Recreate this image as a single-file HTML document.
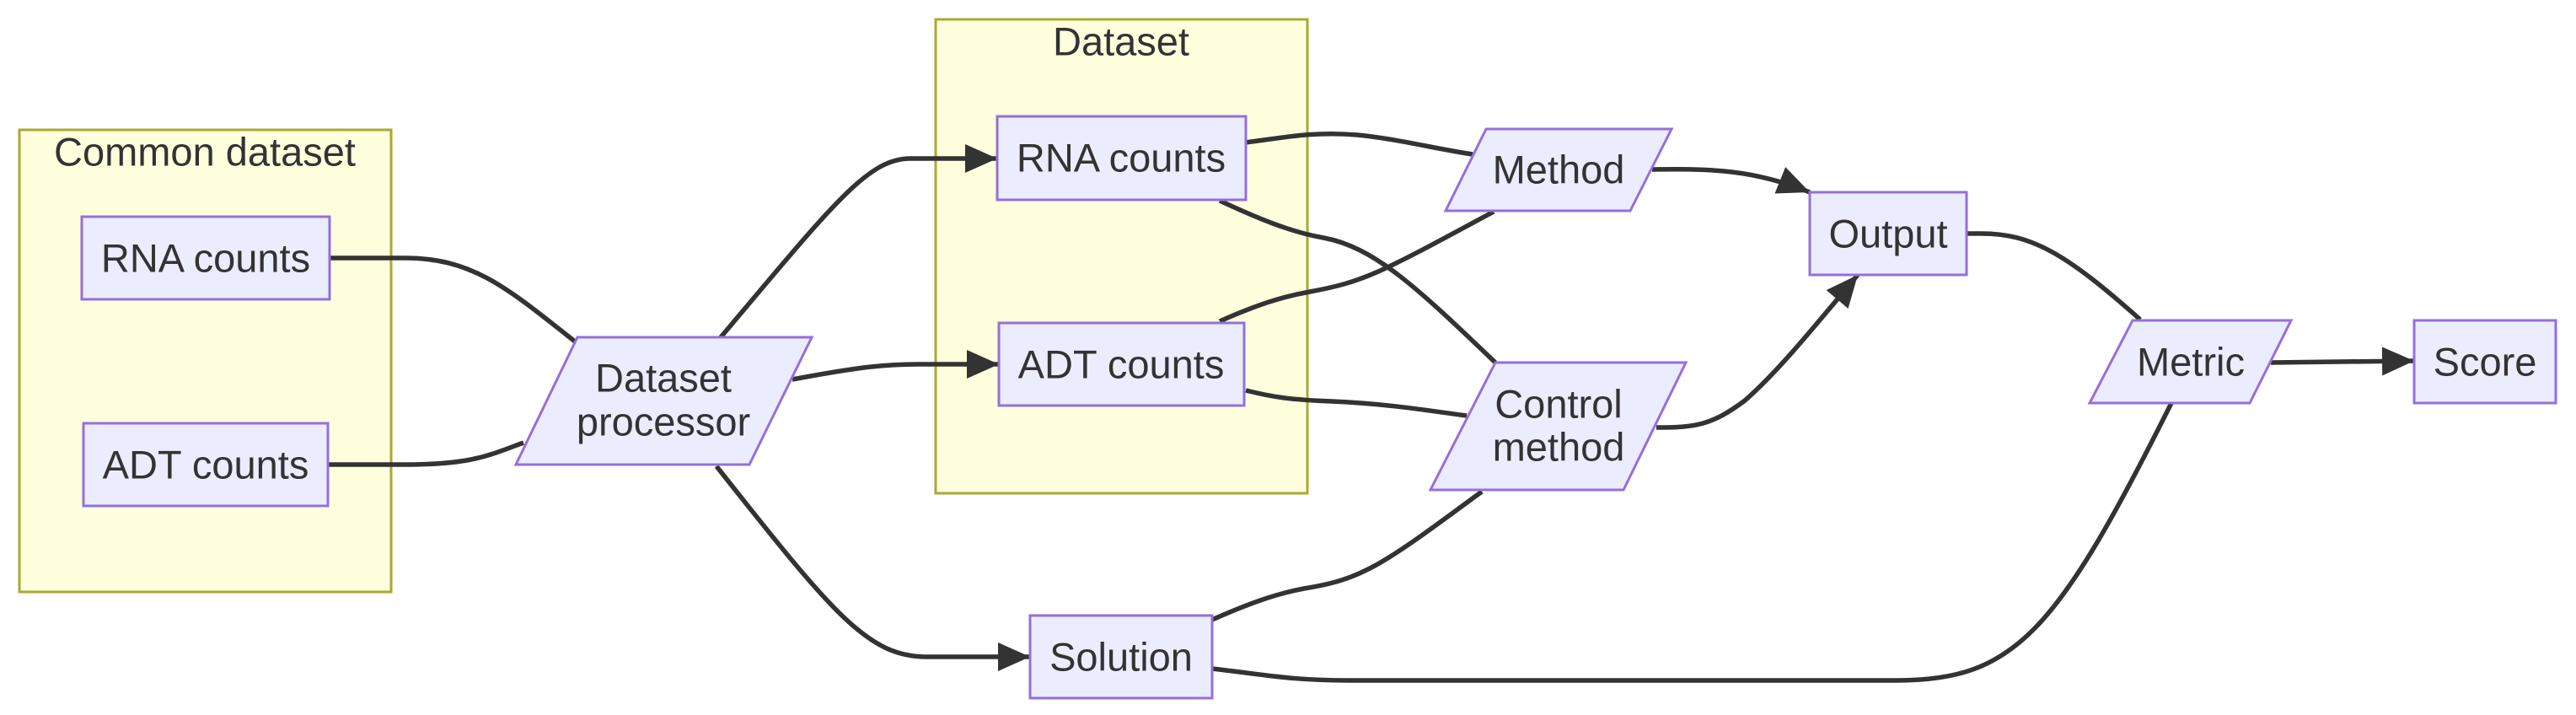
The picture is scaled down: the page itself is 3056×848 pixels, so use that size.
<!DOCTYPE html>
<html><head><meta charset="utf-8"><style>
html,body{margin:0;padding:0;background:#fff;}
svg{display:block;}
text{font-family:"Liberation Sans",Arial,sans-serif;font-size:47px;fill:#333;text-anchor:middle;dominant-baseline:central;}
.n{fill:#ECECFF;stroke:#9370DB;stroke-width:3;}
.c{fill:#FFFFDE;stroke:#AAAA33;stroke-width:3;}
.e{fill:none;stroke:#333;stroke-width:5.5;}
</style></head><body>
<svg width="3056" height="848" viewBox="0 0 3056 848" xmlns="http://www.w3.org/2000/svg">
<defs>
<marker id="a" markerUnits="userSpaceOnUse" markerWidth="38" markerHeight="34" viewBox="0 0 10 10" refX="10" refY="5" orient="auto" preserveAspectRatio="none">
<path d="M0,0 L10,5 L0,10 z" fill="#333"/>
</marker>
</defs>
<rect class="c" x="23" y="154" width="441" height="548"/>
<text x="243" y="180">Common dataset</text>
<rect class="c" x="1110" y="23" width="441" height="562"/>
<text x="1330" y="49">Dataset</text>

<path class="e" d="M391,306 L480,306 C560,306 600,340 682,405"/>
<path class="e" d="M389,551 L480,551 C560,551 580,540 621,525"/>
<path class="e" d="M855,400 C990,240 1030,188 1080,188 L1183,188" marker-end="url(#a)"/>
<path class="e" d="M940,450 C1020,435 1050,432 1090,432 L1185,432" marker-end="url(#a)"/>
<path class="e" d="M850,553 C990,730 1030,779 1100,779 L1222,779" marker-end="url(#a)"/>
<path class="e" d="M1478,169 C1530,162 1560,156 1610,160 C1660,165 1700,176 1747,183"/>
<path class="e" d="M1447,238 C1490,258 1530,275 1570,282 C1630,293 1680,340 1774,430"/>
<path class="e" d="M1447,381 C1490,362 1520,352 1554,346 C1620,334 1640,322 1772,251"/>
<path class="e" d="M1478,463 C1510,471 1530,474 1580,476 C1650,479 1700,488 1740,493"/>
<path class="e" d="M1960,201 C2030,200 2080,201 2147,228" marker-end="url(#a)"/>
<path class="e" d="M1965,507 C2010,507 2030,505 2070,475 C2110,440 2150,390 2204,326" marker-end="url(#a)"/>
<path class="e" d="M1438,735 C1490,712 1520,703 1547,698 C1617,687 1640,670 1758,583"/>
<path class="e" d="M1438,793 C1500,800 1530,807 1600,807 L2250,807 C2390,807 2440,750 2576,478"/>
<path class="e" d="M2333,277 L2350,277 C2410,277 2450,300 2539,379"/>
<path class="e" d="M2694,430 L2864,428" marker-end="url(#a)"/>

<rect class="n" x="97" y="257" width="294" height="98"/>
<text x="244" y="306">RNA counts</text>
<rect class="n" x="99" y="502" width="290" height="98"/>
<text x="244" y="551">ADT counts</text>
<polygon class="n" points="685,400 963,400 889,551 612,551"/>
<text x="787" y="448">Dataset</text>
<text x="787" y="500">processor</text>
<rect class="n" x="1183" y="138" width="295" height="99"/>
<text x="1330" y="187">RNA counts</text>
<rect class="n" x="1185" y="383" width="291" height="98"/>
<text x="1330" y="432">ADT counts</text>
<rect class="n" x="1222" y="730" width="216" height="98"/>
<text x="1330" y="779">Solution</text>
<polygon class="n" points="1763,153 1983,153 1934,250 1715,250"/>
<text x="1849" y="201">Method</text>
<polygon class="n" points="1774,430 2000,430 1926,581 1697,581"/>
<text x="1849" y="479">Control</text>
<text x="1849" y="530">method</text>
<rect class="n" x="2147" y="228" width="186" height="98"/>
<text x="2240" y="277">Output</text>
<polygon class="n" points="2530,380 2718,380 2669,478 2479,478"/>
<text x="2599" y="429">Metric</text>
<rect class="n" x="2864" y="380" width="168" height="98"/>
<text x="2948" y="429">Score</text>
</svg>
</body></html>
